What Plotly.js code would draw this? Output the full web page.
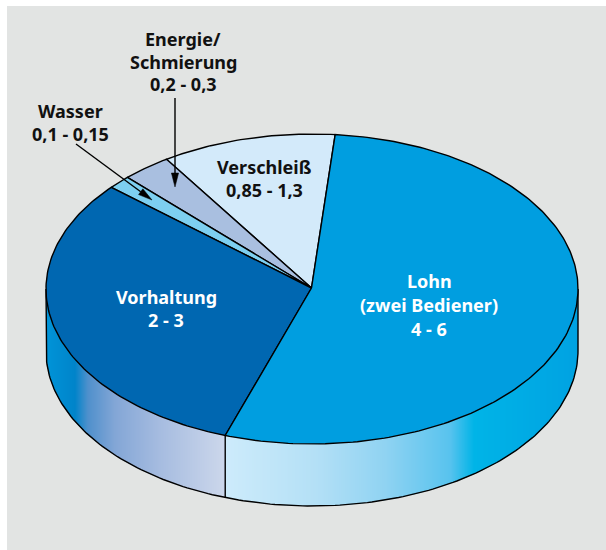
<!DOCTYPE html>
<html><head><meta charset="utf-8">
<script src="https://cdn.plot.ly/plotly-3.0.1.min.js"></script>
<style>html,body{margin:0;padding:0;background:#fff}#c{width:606px;height:550px}</style></head>
<body><div id="c"></div>
<script>
// Slice shares (percent of the full turn), counter-clockwise from the Lohn / Verschleiss edge
const categories = ['Verschleiß','Energie/Schmierung','Wasser','Vorhaltung','Lohn'];
const ranges = ['0,85 - 1,3','0,2 - 0,3','0,1 - 0,15','2 - 3','4 - 6'];
const shares = [10.6, 3.0, 1.4, 31.1, 53.9];
const sliceColors = ['#d3eafa','#a9bfe0','#7dcff0','#0067b1','#009ee0'];
// Side wall colour stops [x, colour]
const wallStops = [[46,'#0094d8'],[75,'#0084ca'],[88,'#4f90cc'],[115,'#83a6d6'],[160,'#a6bce0'],[225,'#ccd7eb'],
                   [225.5,'#cdebfb'],[315,'#b4e0f6'],[385,'#90d3f2'],[450,'#58c3ee'],[474,'#00b4e7'],[578,'#00a2e2']];

const cx=312, cy=289, rx=266, ry=155, depth=62, apexX=311.5, apexY=288, startDeg=85;
const line={color:'#000',width:1.4};
const traces=[];
const hex=c=>[1,3,5].map(i=>parseInt(c.slice(i,i+2),16));
function wallColor(x){
  for(let i=1;i<wallStops.length;i++){
    if(x<=wallStops[i][0]){
      const [a,ca]=wallStops[i-1],[b,cb]=wallStops[i];
      const f=(x-a)/(b-a),A=hex(ca),B=hex(cb);
      return 'rgb('+A.map((v,k)=>Math.round(v+(B[k]-v)*f)).join(',')+')';
    }
  }
  return wallStops[wallStops.length-1][1];
}
const arcY=x=>cy+ry*Math.sqrt(Math.max(0,1-((x-cx)/rx)**2));
// wall: overlapping quads painted left to right, so no seams show
const xEnd=cx+rx;
for(let x=cx-rx;x<xEnd;x+=1){
  const x2=Math.min(x+3,xEnd),c=wallColor(x+0.5),n=6,xs=[],yt=[],yb=[];
  for(let k=0;k<=n;k++){const v=x+(x2-x)*k/n;xs.push(v);yt.push(arcY(v)-3);yb.push(arcY(v)+depth);}
  traces.push({x:xs.concat(xs.slice().reverse()),y:yt.concat(yb.slice().reverse()),mode:'lines',fill:'toself',fillcolor:c,line:{width:0},hoverinfo:'skip'});
}
// wall outline
const ox=[],oy=[];
ox.push(cx-rx);oy.push(cy);
for(let d=180;d<=360;d+=1){const t=d*Math.PI/180;ox.push(cx+rx*Math.cos(t));oy.push(cy+depth-ry*Math.sin(t));}
ox.push(cx+rx);oy.push(cy);
traces.push({x:ox,y:oy,mode:'lines',line,hoverinfo:'skip'});
// slices
let a=startDeg;
const edges=[];
shares.forEach((s,i)=>{
  const sweep=s*3.6,xs=[apexX],ys=[apexY];
  for(let k=0;k<=Math.ceil(sweep);k++){
    const t=(a+sweep*k/Math.ceil(sweep))*Math.PI/180;
    xs.push(cx+rx*Math.cos(t));ys.push(cy-ry*Math.sin(t));
  }
  xs.push(apexX);ys.push(apexY);
  traces.push({x:xs,y:ys,mode:'lines',fill:'toself',fillcolor:sliceColors[i],line,hoverinfo:'skip',name:categories[i]});
  a+=sweep;edges.push(a);
});
// wall seam under the Vorhaltung / Lohn edge
{const t=edges[3]*Math.PI/180,x=cx+rx*Math.cos(t),y=cy-ry*Math.sin(t);
 traces.push({x:[x,x],y:[y,y+depth],mode:'lines',line,hoverinfo:'skip'});}
// arrows: tail, tip
const arrows=[[[175,98],[175,187]],[[76,144],[152,200]]];
const headLen=14, headHalf=3.6;
arrows.forEach(([p,q])=>{
  const L=Math.hypot(q[0]-p[0],q[1]-p[1]),ux=(q[0]-p[0])/L,uy=(q[1]-p[1])/L;
  const bx=q[0]-ux*headLen,by=q[1]-uy*headLen;
  traces.push({x:[p[0],bx],y:[p[1],by],mode:'lines',line,hoverinfo:'skip'});
  traces.push({x:[q[0],bx-uy*headHalf,bx+uy*headHalf,q[0]],y:[q[1],by+ux*headHalf,by-ux*headHalf,q[1]],mode:'lines',fill:'toself',fillcolor:'#000',line:{color:'#000',width:0.5},hoverinfo:'skip'});
});
// labels, one annotation per line
const font={family:'"Noto Sans",sans-serif',size:18,color:'#111'};
const white={...font,color:'#fff'};
const labels=[
 [['Lohn','(zwei Bediener)',ranges[4]],429,281,24,white],
 [[categories[3],ranges[3]],166,297,22.5,white],
 [[categories[0],ranges[0]],264,167,22.5,font],
 [['Energie/','Schmierung',ranges[1]],183,39,22.5,font],
 [[categories[2],ranges[2]],70,111,23,font]
];
const annotations=[];
labels.forEach(([lines,x,y,dy,f])=>lines.forEach((t,i)=>annotations.push({text:'<b>'+t+'</b>',x,y:y+i*dy,xref:'x',yref:'y',showarrow:false,font:f,align:'center',xanchor:'center',yanchor:'middle'})));
const layout={width:606,height:550,margin:{l:0,r:0,t:0,b:0},paper_bgcolor:'#fff',plot_bgcolor:'rgba(0,0,0,0)',showlegend:false,
 xaxis:{range:[0,606],visible:false,fixedrange:true},yaxis:{range:[550,0],visible:false,fixedrange:true},
 shapes:[{type:'rect',xref:'x',yref:'y',x0:7,x1:606,y0:6,y1:550,fillcolor:'#e2e4e3',line:{width:0},layer:'below'}],
 annotations};
Plotly.newPlot('c',traces,layout,{displayModeBar:false,staticPlot:true});
</script></body></html>
